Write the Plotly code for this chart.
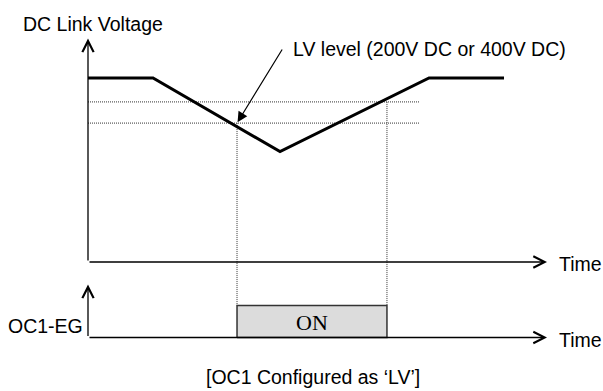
import plotly.graph_objects as go

# ---------------- data ----------------
time_knots = [0, 4.25, 12.55, 22.29, 27.19]
dc_link_voltage = [100, 100, 60, 100, 100]
lv_levels = [87, 75.5]           # upper / lower LV threshold lines
lv_level_extent = [0, 21.7]      # time span of the dotted LV lines
oc1_on_interval = [9.74, 19.54]  # OC1 output ON between these times
oc1_levels = [0, 1]              # OFF / ON
time_axis_end = 30
voltage_axis_top = 121.5
oc1_axis_top = 1.66

# ---------------- geometry (pixel mapping) ----------------
W, H = 603, 391
X0_PX, X_SCALE = 88, 15.3       # px of time 0, px per time unit
Y0_PX, Y_SCALE = 262, 1.84      # px of voltage 0, px per voltage unit
Y20_PX, Y2_SCALE = 337.5, 32    # px of OC1 level 0, px per level unit

x_range = [(0 - X0_PX) / X_SCALE, (W - X0_PX) / X_SCALE]
y_range = [(Y0_PX - H) / Y_SCALE, Y0_PX / Y_SCALE]
y2_range = [(Y20_PX - H) / Y2_SCALE, Y20_PX / Y2_SCALE]


def y2_to_y(v):
    px = Y20_PX - v * Y2_SCALE
    return (Y0_PX - px) / Y_SCALE


FONT = "Liberation Sans, Arial, sans-serif"
FS = 19.5
SERIF = "Liberation Serif, Times New Roman, serif"
DOT = dict(color="#333", width=1, dash="1px,1px")

fig = go.Figure()

# LV level dotted lines
for lvl in lv_levels:
    fig.add_trace(go.Scatter(x=lv_level_extent, y=[lvl, lvl], mode="lines",
                             line=DOT, hoverinfo="skip", showlegend=False))

# vertical dotted lines from LV crossing to OC1 pulse
for t, lvl in zip(oc1_on_interval, [lv_levels[1], lv_levels[0]]):
    fig.add_trace(go.Scatter(x=[t, t], y=[lvl, y2_to_y(oc1_levels[1])], mode="lines",
                             line=DOT, hoverinfo="skip", showlegend=False))

# DC link voltage
fig.add_trace(go.Scatter(x=time_knots, y=dc_link_voltage, mode="lines",
                         line=dict(color="black", width=3),
                         hoverinfo="skip", showlegend=False))

# OC1 ON pulse box
t0, t1 = oc1_on_interval
fig.add_trace(go.Scatter(x=[t0, t0, t1, t1, t0],
                         y=[oc1_levels[0], oc1_levels[1], oc1_levels[1], oc1_levels[0], oc1_levels[0]],
                         yaxis="y2", mode="lines", fill="toself", fillcolor="#dcdcdc",
                         line=dict(color="#333", width=1.5),
                         hoverinfo="skip", showlegend=False))

annotations = []


def axis_arrow(x, y, ax, ay, yref):
    annotations.append(dict(x=x, y=y, ax=ax, ay=ay, xref="x", yref=yref,
                            axref="x", ayref=yref, text="", showarrow=True,
                            arrowhead=5, arrowsize=1.7, arrowwidth=1.3,
                            arrowcolor="black", standoff=0, startstandoff=0))


axis_arrow(0, voltage_axis_top, 0, 0, "y")
axis_arrow(time_axis_end, 0, 0, 0, "y")
axis_arrow(0, oc1_axis_top, 0, oc1_levels[0], "y2")
axis_arrow(time_axis_end, oc1_levels[0], 0, oc1_levels[0], "y2")

# LV level pointer arrow
annotations.append(dict(x=oc1_on_interval[0], y=lv_levels[1], ax=12.75, ay=116.3,
                        xref="x", yref="y", axref="x", ayref="y", text="",
                        showarrow=True, arrowhead=2, arrowsize=1.7, arrowwidth=1.2,
                        arrowcolor="black", standoff=1))


def label(text, xpx, ypx, xanchor="left", font=FONT, size=FS):
    annotations.append(dict(text=text, x=xpx / W, y=1 - ypx / H, xref="paper", yref="paper",
                            xanchor=xanchor, yanchor="middle", showarrow=False,
                            font=dict(family=font, size=size, color="black")))


label("DC Link Voltage", 21, 24)
label("LV level (200V DC or 400V DC)", 291, 49)
label("Time", 557, 264)
label("Time", 557, 340)
label("OC1-EG", 85, 326, xanchor="right")
label("ON", 312, 322, xanchor="center", font=SERIF, size=22)
label("[OC1 Configured as \u2018LV\u2019]", 312.5, 377, xanchor="center")

fig.update_layout(
    width=W, height=H, margin=dict(l=0, r=0, t=0, b=0),
    paper_bgcolor="white", plot_bgcolor="white",
    xaxis=dict(range=x_range, visible=False, fixedrange=True),
    yaxis=dict(range=y_range, visible=False, fixedrange=True),
    yaxis2=dict(range=y2_range, visible=False, overlaying="y", fixedrange=True),
    annotations=annotations,
    showlegend=False,
)

fig.write_html("out.html", config={"displayModeBar": False},
               post_script="document.body.style.margin='0';document.body.style.overflow='hidden';")
